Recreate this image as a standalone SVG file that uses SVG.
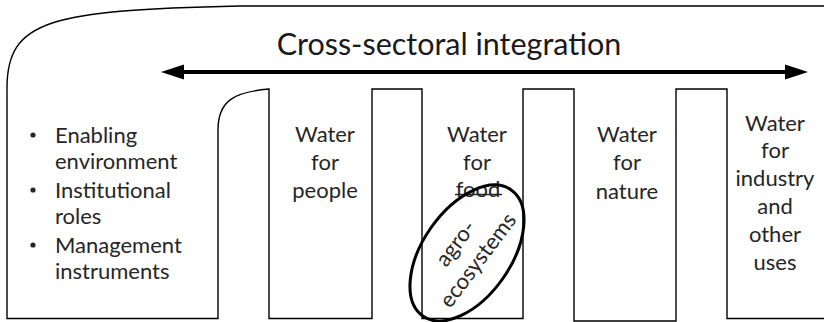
<svg xmlns="http://www.w3.org/2000/svg" width="824" height="322" viewBox="0 0 824 322">
<defs>
<style>
.outline{fill:none;stroke:#000;stroke-width:1.4;stroke-linejoin:miter}
.t{font-family:Lato,"Open Sans","Liberation Sans",sans-serif;font-size:22px;fill:#262626;text-anchor:middle}
.tl{font-family:Lato,"Open Sans","Liberation Sans",sans-serif;font-size:22px;fill:#262626}
.title{font-family:Lato,"Open Sans","Liberation Sans",sans-serif;font-size:30.5px;fill:#1a1a1a;text-anchor:middle}
.arrow{stroke:#000;stroke-width:4;fill:none}
</style>
<marker id="ah" markerUnits="userSpaceOnUse" markerWidth="24" markerHeight="16" viewBox="0 -8 24 16" refX="1" refY="0" orient="auto-start-reverse">
<path d="M0,-7.5 L23,0 L0,7.5 Z" fill="#000"/>
</marker>
</defs>
<rect width="824" height="322" fill="#fff"/>
<g id="outline">
<path class="outline" d="M824,6 L240,6 C50,10 7,20 7,88 L7,318.5 L218,318.5 L218,130 C218,100 235,92 269,89 L269,318.5 L372,318.5 L372,89 L422,89 L422,318.5 L523,318.5 L523,89 L574,89 L574,321 L676,321 L676,89 L727,89 L727,318.5 L824,318.5"/>
</g>
<g id="title">
<text class="title" x="449" y="55">Cross-sectoral integration</text>
</g>
<g id="connectors">
<line class="arrow" x1="183" y1="72" x2="786" y2="72" marker-start="url(#ah)" marker-end="url(#ah)"/>
</g>
<g id="enabling">
<circle cx="33" cy="135" r="2.6" fill="#262626"/>
<text class="tl" x="55" y="143">Enabling</text>
<text class="tl" x="55" y="169">environment</text>
<circle cx="33" cy="190" r="2.6" fill="#262626"/>
<text class="tl" x="55" y="198">Institutional</text>
<text class="tl" x="55" y="224">roles</text>
<circle cx="33" cy="245" r="2.6" fill="#262626"/>
<text class="tl" x="55" y="253">Management</text>
<text class="tl" x="55" y="279">instruments</text>
</g>
<g id="people">
<text class="t" x="325" y="142">Water</text>
<text class="t" x="325" y="170">for</text>
<text class="t" x="325" y="198">people</text>
</g>
<g id="food">
<text class="t" x="477" y="142">Water</text>
<text class="t" x="477" y="170">for</text>
<text class="t" x="478" y="197">food</text>
<line x1="455" y1="194.5" x2="502" y2="194.5" stroke="#262626" stroke-width="1.6"/>
</g>
<g id="agro">
<ellipse cx="467" cy="253" rx="77" ry="44" transform="rotate(-55 467 253)" fill="none" stroke="#000" stroke-width="3"/>
<g transform="translate(467 252) rotate(-53)">
<text class="t" x="0" y="-7">agro-</text>
<text class="t" x="0" y="21">ecosystems</text>
</g>
</g>
<g id="nature">
<text class="t" x="627" y="142">Water</text>
<text class="t" x="627" y="170">for</text>
<text class="t" x="627" y="199">nature</text>
</g>
<g id="industry">
<text class="t" x="775" y="131">Water</text>
<text class="t" x="775" y="158">for</text>
<text class="t" x="775" y="186">industry</text>
<text class="t" x="775" y="214">and</text>
<text class="t" x="775" y="242">other</text>
<text class="t" x="775" y="270">uses</text>
</g>
</svg>
